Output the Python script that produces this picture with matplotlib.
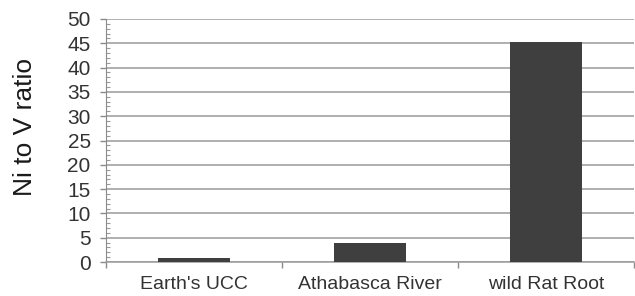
import matplotlib
import numpy as np

matplotlib.use('Agg')
from matplotlib import pyplot as plt
from matplotlib.ticker import MultipleLocator, FixedLocator, NullFormatter, FixedFormatter

categories = ["Earth's UCC", "Athabasca River", "wild Rat Root"]
ratios = [0.75, 4.0, 45.2]
y_label = "Ni to V ratio"

plt.rcParams['font.family'] = ['Liberation Sans', 'DejaVu Sans']

fig = plt.figure(figsize=(6.35, 2.96), dpi=100)
ax = fig.add_axes([106 / 635, 34 / 296, 528 / 635, 243 / 296])

x = np.arange(len(categories))
ax.bar(x, ratios, width=0.41, color='#3f3f3f', zorder=3)

ax.set_xlim(-0.5, len(categories) - 0.5)
ax.set_ylim(0, 50)

# gridlines and y ticks
ax.yaxis.set_major_locator(MultipleLocator(5))
ax.yaxis.set_minor_locator(MultipleLocator(1))
ax.grid(axis='y', which='major', color='#9a9a9a', linewidth=1.1, zorder=0)
ax.tick_params(axis='y', which='major', direction='out', length=4, width=1,
               color='#8a8a8a', labelsize=15, labelcolor='#333333', pad=7)
ax.tick_params(axis='y', which='minor', direction='in', length=3, width=0.8,
               color='#9a9a9a')

# x ticks at category boundaries, labels at category centres
ax.xaxis.set_major_locator(FixedLocator(np.arange(len(categories) + 1) - 0.5))
ax.xaxis.set_major_formatter(NullFormatter())
ax.xaxis.set_minor_locator(FixedLocator(x))
ax.xaxis.set_minor_formatter(FixedFormatter(categories))
ax.tick_params(axis='x', which='major', direction='out', length=4, width=1,
               color='#8a8a8a')
ax.tick_params(axis='x', which='minor', length=0, labelsize=14,
               labelcolor='#333333', pad=10)

for side in ['top', 'right']:
    ax.spines[side].set_visible(False)
ax.spines['left'].set_color('#8a8a8a')
ax.spines['bottom'].set_color('#9a9a9a')
ax.spines['bottom'].set_linewidth(1.1)

ax.set_ylabel(y_label, fontsize=19, color='#1a1a1a')
ax.yaxis.set_label_coords(-0.131, 0.556)

fig.savefig('out.png', dpi=100)
